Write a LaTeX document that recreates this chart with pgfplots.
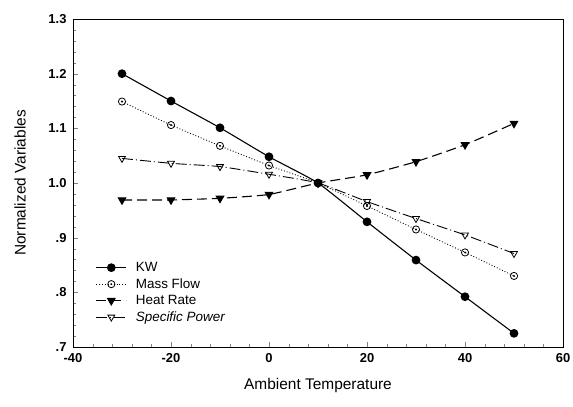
\documentclass[border=0pt]{standalone}
\usepackage{fontspec}
\setmainfont{Liberation Sans}
\usepackage{pgfplots}
\pgfplotsset{compat=1.18}
\pgfdeclareplotmark{odot}{%
  \pgfpathcircle{\pgfpointorigin}{\pgfplotmarksize}\pgfusepathqstroke
  \pgfpathcircle{\pgfpointorigin}{0.3\pgfplotmarksize}\pgfusepathqfill}
\begin{document}
\begin{tikzpicture}[x=1bp,y=1bp]
\useasboundingbox (0,0) rectangle (573,406);
\begin{axis}[
  at={(73bp,59bp)}, anchor=south west,
  width=490bp, height=328bp, scale only axis,
  xmin=-40, xmax=60, ymin=0.7, ymax=1.3,
  xtick={-40,-20,0,20,40,60},
  ytick={0.7,0.8,0.9,1.0,1.1,1.2,1.3},
  yticklabels={.7,.8,.9,1.0,1.1,1.2,1.3},
  minor x tick num=4, minor y tick num=4,
  tick align=inside, xtick pos=bottom, ytick pos=left,
  major tick length=5bp, minor tick length=3bp,
  axis line style={line width=1pt},
  /pgf/number format/assume math mode=true,
  ticklabel style={font=\bfseries\fontsize{13}{15}\selectfont},
  xticklabel style={yshift=-3bp},
  yticklabel style={xshift=-3bp},
  xlabel={Ambient Temperature},
  ylabel={Normalized Variables},
  label style={font=\fontsize{15.5}{17}\selectfont},
  x label style={at={(axis description cs:0.5,-0.116)}, anchor=center},
  y label style={at={(axis description cs:-0.108,0.5)}, anchor=center},
  legend style={draw=none, fill=none, at={(0.044,0.268)}, anchor=north west,
    font=\fontsize{13.5}{15}\selectfont, row sep=1.5bp, inner sep=1bp},
  legend cell align=left,
  legend image code/.code={\draw[#1] (0bp,0bp) -- (15bp,0bp) -- (30bp,0bp); \draw[#1, solid] plot coordinates {(15bp,0bp)}; \path (37bp,0bp);},
]
\addplot[black, line width=1.1pt, smooth, tension=0.3, mark=*, mark size=3.8bp] coordinates {
(-30,1.200) (-20,1.150) (-10,1.101) (0,1.048) (10,1.000) (20,0.929) (30,0.859) (40,0.792) (50,0.725)};
\addlegendentry{KW}
\addplot[black, line width=0.9pt, dotted, smooth, tension=0.3, mark=odot, mark size=3.6bp, mark options={solid, line width=0.8pt, fill=black}] coordinates {
(-30,1.149) (-20,1.106) (-10,1.068) (0,1.032) (10,1.000) (20,0.958) (30,0.915) (40,0.873) (50,0.830)};
\addlegendentry{Mass Flow}
\addplot[black, line width=1.1pt, dash pattern=on 10bp off 5bp, smooth, tension=0.3, mark=triangle*, mark size=4.2bp, mark options={solid, rotate=180}] coordinates {
(-30,0.969) (-20,0.969) (-10,0.972) (0,0.979) (10,1.000) (20,1.015) (30,1.039) (40,1.070) (50,1.109)};
\addlegendentry{Heat Rate}
\addplot[black, line width=0.9pt, dash pattern=on 11bp off 3bp on 1bp off 3bp, smooth, tension=0.3, mark=triangle, mark size=4bp, mark options={solid, rotate=180, line width=0.8pt}] coordinates {
(-30,1.045) (-20,1.036) (-10,1.030) (0,1.016) (10,1.000) (20,0.966) (30,0.935) (40,0.905) (50,0.871)};
\addlegendentry{\textit{Specific Power}}
\end{axis}
\end{tikzpicture}
\end{document}
